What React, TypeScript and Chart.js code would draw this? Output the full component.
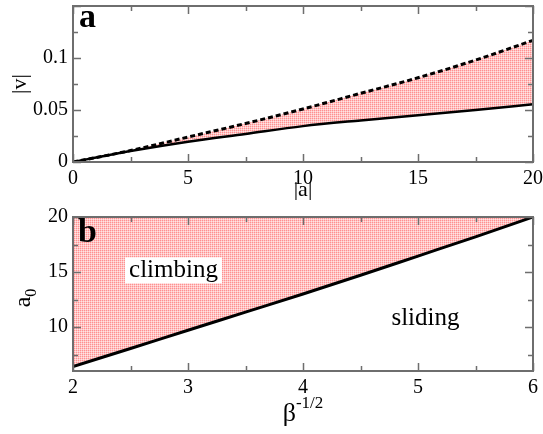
import React, { useEffect, useRef } from "react";
import { Chart, registerables } from "chart.js";

Chart.register(...registerables);

// Panel a data
const aValues = [0, 2.5, 5, 7.5, 10, 12.5, 15, 17.5, 20];
const vUpper = [0, 0.011, 0.024, 0.037, 0.051, 0.066, 0.081, 0.098, 0.117];
const vLower = [0, 0.0105, 0.0195, 0.027, 0.0345, 0.04, 0.045, 0.05, 0.0555];
const aTicks = [0, 5, 10, 15, 20];
const vTicks = [0, 0.05, 0.1];

// Panel b data
const betaValues = [2, 2.5, 3, 3.5, 4, 4.5, 5, 5.5, 6];
const a0Values = [6.4, 8.05, 9.7, 11.35, 13.0, 14.7, 16.45, 18.2, 20.0];
const betaTicks = [2, 3, 4, 5, 6];
const a0Ticks = [10, 15, 20];

const SERIF = '"Liberation Serif"';
const FRAME = "#6e6e6e";

function makePattern(): CanvasPattern | string {
  const c = document.createElement("canvas");
  c.width = 2;
  c.height = 2;
  const g = c.getContext("2d");
  if (!g) return "#ffc4c4";
  g.fillStyle = "#ffe4e4";
  g.fillRect(0, 0, 2, 2);
  g.fillStyle = "#ffc4c4";
  g.fillRect(1, 0, 1, 1);
  g.fillRect(0, 1, 1, 1);
  g.fillStyle = "#ff9090";
  g.fillRect(0, 0, 1, 1);
  const p = g.createPattern(c, "repeat");
  return p || "#ffc4c4";
}

function frameTicks(xMin: number, xMax: number, xStep: number, xMajor: number,
  yMin: number, yMax: number, yStep: number, yMajor: number) {
  return {
    id: "frameTicks",
    afterDatasetsDraw(chart: any) {
      const { ctx, chartArea: ca, scales } = chart;
      const xs = scales.x, ys = scales.y;
      ctx.save();
      ctx.strokeStyle = FRAME;
      ctx.lineWidth = 1.5;
      const eps = 1e-9;
      for (let v = Math.ceil(xMin / xStep) * xStep; v <= xMax + eps; v += xStep) {
        const isMajor = Math.abs(v / xMajor - Math.round(v / xMajor)) < 1e-6;
        const len = isMajor ? 8 : 5;
        const px = Math.round(xs.getPixelForValue(v)) + 0.5;
        ctx.beginPath();
        ctx.moveTo(px, ca.bottom);
        ctx.lineTo(px, ca.bottom - len);
        ctx.moveTo(px, ca.top);
        ctx.lineTo(px, ca.top + len);
        ctx.stroke();
      }
      for (let v = Math.ceil(yMin / yStep) * yStep; v <= yMax + eps; v += yStep) {
        const isMajor = Math.abs(v / yMajor - Math.round(v / yMajor)) < 1e-6;
        const len = isMajor ? 8 : 5;
        const py = Math.round(ys.getPixelForValue(v)) + 0.5;
        ctx.beginPath();
        ctx.moveTo(ca.left, py);
        ctx.lineTo(ca.left + len, py);
        ctx.moveTo(ca.right, py);
        ctx.lineTo(ca.right - len, py);
        ctx.stroke();
      }
      ctx.lineWidth = 2;
      ctx.strokeRect(ca.left, ca.top, ca.right - ca.left, ca.bottom - ca.top);
      ctx.restore();
    },
  };
}

function axisCommon(min: number, max: number, ticks: number[], size: number, isX: boolean) {
  return {
    type: "linear" as const,
    min,
    max,
    grid: { display: false, drawTicks: false, tickLength: 0 },
    border: { display: false },
    afterBuildTicks: (scale: any) => {
      scale.ticks = ticks.map((v) => ({ value: v }));
    },
    afterFit: (scale: any) => {
      if (isX) scale.height = size;
      else scale.width = size;
      scale.paddingTop = 0;
      scale.paddingBottom = 0;
      scale.paddingLeft = 0;
      scale.paddingRight = 0;
    },
    ticks: {
      color: "#000",
      font: { family: SERIF, size: 20 },
      padding: 5,
      maxRotation: 0,
      autoSkip: false,
      callback: (v: any) => String(Number(v)),
    },
  };
}

export default function App() {
  const refA = useRef<HTMLCanvasElement | null>(null);
  const refB = useRef<HTMLCanvasElement | null>(null);

  useEffect(() => {
    Chart.defaults.font.family = SERIF;
    const pattern = makePattern();

    const labelsA = {
      id: "labelsA",
      afterDraw(chart: any) {
        const { ctx, chartArea: ca } = chart;
        ctx.save();
        ctx.fillStyle = "#000";
        ctx.font = `22px ${SERIF}`;
        ctx.textAlign = "center";
        ctx.textBaseline = "middle";
        ctx.save();
        ctx.translate(20, (ca.top + ca.bottom) / 2);
        ctx.rotate(-Math.PI / 2);
        ctx.fillText("|v|", 0, 0);
        ctx.restore();
        ctx.fillText("|a|", (ca.left + ca.right) / 2, 190);
        ctx.font = `bold 34px ${SERIF}`;
        ctx.textAlign = "left";
        ctx.textBaseline = "alphabetic";
        ctx.fillText("a", ca.left + 6, ca.top + 21);
        ctx.restore();
      },
    };

    const labelsB = {
      id: "labelsB",
      afterDraw(chart: any) {
        const { ctx, chartArea: ca, scales } = chart;
        ctx.save();
        ctx.fillStyle = "#000";
        // y title a_0
        ctx.save();
        ctx.translate(30, (ca.top + ca.bottom) / 2 + 4);
        ctx.rotate(-Math.PI / 2);
        ctx.textBaseline = "alphabetic";
        ctx.font = `24px ${SERIF}`;
        const wa = ctx.measureText("a").width;
        ctx.font = `16px ${SERIF}`;
        const w0 = ctx.measureText("0").width;
        const start = -(wa + w0) / 2;
        ctx.font = `24px ${SERIF}`;
        ctx.textAlign = "left";
        ctx.fillText("a", start, 0);
        ctx.font = `16px ${SERIF}`;
        ctx.fillText("0", start + wa, 6);
        ctx.restore();
        // x title beta^-1/2
        ctx.textAlign = "left";
        ctx.textBaseline = "alphabetic";
        ctx.font = `26px ${SERIF}`;
        const wb = ctx.measureText("\u03b2").width;
        ctx.font = `17px ${SERIF}`;
        const ws = ctx.measureText("-1/2").width;
        const sx = (ca.left + ca.right) / 2 - (wb + ws) / 2;
        ctx.font = `26px ${SERIF}`;
        ctx.fillText("\u03b2", sx, 221);
        ctx.font = `17px ${SERIF}`;
        ctx.fillText("-1/2", sx + wb, 208);
        // panel letter
        ctx.font = `bold 34px ${SERIF}`;
        ctx.fillText("b", ca.left + 5, ca.top + 25);
        // climbing box
        const cx = scales.x.getPixelForValue(2.874);
        const cy = scales.y.getPixelForValue(15.15);
        ctx.fillStyle = "#fff";
        ctx.fillRect(cx - 48.5, cy - 13, 97, 26);
        ctx.fillStyle = "#000";
        ctx.font = `25px ${SERIF}`;
        ctx.textAlign = "center";
        ctx.textBaseline = "middle";
        ctx.fillText("climbing", cx, cy);
        const sxp = scales.x.getPixelForValue(5.065);
        const syp = scales.y.getPixelForValue(10.8);
        ctx.fillText("sliding", sxp, syp);
        ctx.restore();
      },
    };

    const chartA = new Chart(refA.current as HTMLCanvasElement, {
      type: "line",
      data: {
        datasets: [
          {
            data: aValues.map((x, i) => ({ x, y: vUpper[i] })),
            borderColor: "#000",
            borderWidth: 3,
            borderDash: [5, 3],
            pointRadius: 0,
            cubicInterpolationMode: "monotone",
            fill: 1,
            backgroundColor: pattern as any,
          },
          {
            data: aValues.map((x, i) => ({ x, y: vLower[i] })),
            borderColor: "#000",
            borderWidth: 2.5,
            pointRadius: 0,
            cubicInterpolationMode: "monotone",
            fill: false,
          },
        ],
      },
      options: {
        animation: false,
        responsive: true,
        maintainAspectRatio: false,
        layout: { padding: { left: 0, right: 10, top: 6, bottom: 0 } },
        plugins: {
          legend: { display: false },
          tooltip: { enabled: false },
          filler: { drawTime: "beforeDatasetsDraw" },
        } as any,
        scales: {
          x: axisCommon(0, 20, aTicks, 38, true),
          y: axisCommon(0, 0.15, vTicks, 73, false),
        } as any,
      },
      plugins: [frameTicks(0, 20, 2.5, 5, 0, 0.15, 0.025, 0.05), labelsA],
    });

    const chartB = new Chart(refB.current as HTMLCanvasElement, {
      type: "line",
      data: {
        datasets: [
          {
            data: betaValues.map((x, i) => ({ x, y: a0Values[i] })),
            borderColor: "#000",
            borderWidth: 3,
            pointRadius: 0,
            cubicInterpolationMode: "monotone",
            fill: "end",
            backgroundColor: pattern as any,
          },
        ],
      },
      options: {
        animation: false,
        responsive: true,
        maintainAspectRatio: false,
        layout: { padding: { left: 0, right: 10, top: 17, bottom: 0 } },
        plugins: {
          legend: { display: false },
          tooltip: { enabled: false },
          filler: { drawTime: "beforeDatasetsDraw" },
        } as any,
        scales: {
          x: axisCommon(2, 6, betaTicks, 63, true),
          y: axisCommon(6, 20, a0Ticks, 73, false),
        } as any,
      },
      plugins: [frameTicks(2, 6, 0.5, 1, 6, 20, 2.5, 5), labelsB],
    });

    return () => {
      chartA.destroy();
      chartB.destroy();
    };
  }, []);

  return (
    <div style={{ position: "absolute", left: 0, top: 0, width: 543, height: 434, background: "#fff" }}>
      <div style={{ position: "absolute", left: 0, top: 0, width: 543, height: 200 }}>
        <canvas ref={refA} />
      </div>
      <div style={{ position: "absolute", left: 0, top: 200, width: 543, height: 234 }}>
        <canvas ref={refB} />
      </div>
    </div>
  );
}
